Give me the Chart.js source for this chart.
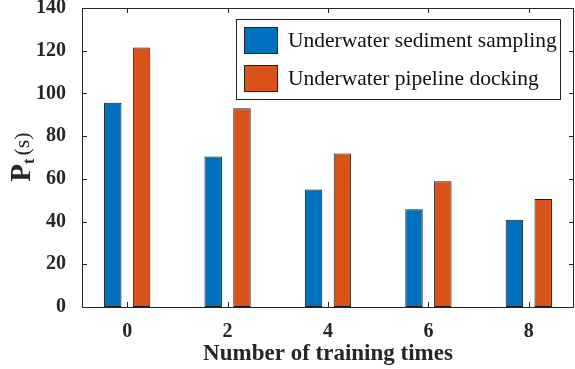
<!DOCTYPE html>
<html>
<head>
<meta charset="utf-8">
<script src="https://cdn.jsdelivr.net/npm/chart.js@4.4.1/dist/chart.umd.min.js"></script>
<style>
  html, body { margin: 0; padding: 0; background: #fff; }
  #wrap { width: 575px; height: 369px; }
</style>
</head>
<body>
<div id="wrap"><canvas id="chart" width="575" height="369"></canvas></div>
<script>
const trainingTimes = [0, 2, 4, 6, 8];
const sedimentSampling = [95.6, 70.5, 55.0, 45.8, 40.8];
const pipelineDocking = [121.5, 93.1, 71.9, 58.9, 50.6];
const xTicks = [0, 2, 4, 6, 8];
const yTicks = [0, 20, 40, 60, 80, 100, 120, 140];
const seriesNames = ["Underwater sediment sampling", "Underwater pipeline docking"];

const AXIS = "#262626";
const SERIF = "'Liberation Serif', 'Times New Roman', serif";

// MATLAB style box, inward ticks, legend and y label
const matlabAxes = {
    id: "matlabAxes",
    afterDraw(chart) {
        const ctx = chart.ctx;
        const a = chart.chartArea;
        const xs = chart.scales.x, ys = chart.scales.y;
        ctx.save();
        ctx.strokeStyle = AXIS;
        ctx.lineWidth = 1;
        ctx.strokeRect(Math.round(a.left) + 0.5, Math.round(a.top) + 0.5,
            Math.round(a.right - a.left) - 1, Math.round(a.bottom - a.top));
        const tl = 5;
        ctx.beginPath();
        xTicks.forEach(v => {
            const px = Math.round(xs.getPixelForValue(v)) + 0.5;
            ctx.moveTo(px, a.bottom); ctx.lineTo(px, a.bottom - tl);
            ctx.moveTo(px, a.top); ctx.lineTo(px, a.top + tl);
        });
        yTicks.forEach(v => {
            const py = Math.round(ys.getPixelForValue(v)) + 0.5;
            ctx.moveTo(a.left, py); ctx.lineTo(a.left + tl, py);
            ctx.moveTo(a.right, py); ctx.lineTo(a.right - tl, py);
        });
        ctx.stroke();

        // legend
        const lx = 236, ly = 19, lw = 324, lh = 80;
        ctx.fillStyle = "#fff";
        ctx.fillRect(lx, ly, lw, lh);
        ctx.strokeStyle = AXIS;
        ctx.strokeRect(lx + 0.5, ly + 0.5, lw, lh);
        ctx.font = "21.5px " + SERIF;
        ctx.textBaseline = "middle";
        chart.data.datasets.forEach((ds, i) => {
            const yy = 40 + i * 38;
            ctx.fillStyle = ds.backgroundColor;
            ctx.fillRect(244, yy - 13, 33, 26);
            ctx.strokeStyle = "#222";
            ctx.strokeRect(244.5, yy - 12.5, 33, 26);
            ctx.fillStyle = "#111";
            ctx.fillText(ds.label, 288, yy + 1);
        });

        // y axis label P_t(s)
        ctx.translate(30, 157);
        ctx.rotate(-Math.PI / 2);
        ctx.fillStyle = AXIS;
        ctx.textBaseline = "alphabetic";
        ctx.textAlign = "left";
        const parts = [
            { t: "P", f: "bold 29px " + SERIF, dy: 0, gap: 0 },
            { t: "t", f: "bold 16px " + SERIF, dy: 4, gap: 3 },
            { t: "(s)", f: "22px " + SERIF, dy: -1, gap: 0 }
        ];
        let total = 0;
        parts.forEach(p => { ctx.font = p.f; p.w = ctx.measureText(p.t).width; total += p.w + p.gap; });
        let cx = -total / 2;
        parts.forEach(p => {
            ctx.font = p.f;
            ctx.fillText(p.t, cx, p.dy);
            cx += p.w + p.gap;
        });
        ctx.restore();
    }
};

new Chart(document.getElementById("chart"), {
    type: "bar",
    data: {
        datasets: [
            {
                label: seriesNames[0],
                data: trainingTimes.map((t, i) => ({ x: t, y: sedimentSampling[i] })),
                backgroundColor: "#0072BD",
                borderColor: "#1a1a1a",
                borderWidth: 1,
                borderSkipped: false
            },
            {
                label: seriesNames[1],
                data: trainingTimes.map((t, i) => ({ x: t, y: pipelineDocking[i] })),
                backgroundColor: "#D95319",
                borderColor: "#1a1a1a",
                borderWidth: 1,
                borderSkipped: false
            }
        ]
    },
    options: {
        responsive: false,
        animation: false,
        layout: { padding: { top: 8, right: 1, left: 0, bottom: 0 } },
        categoryPercentage: 0.574,
        barPercentage: 0.606,
        plugins: { legend: { display: false }, tooltip: { enabled: false } },
        scales: {
            x: {
                type: "linear",
                min: -0.9,
                max: 8.9,
                offset: false,
                afterBuildTicks: s => { s.ticks = xTicks.map(v => ({ value: v })); },
                afterFit: s => { s.height = 62; s.paddingLeft = 0; s.paddingRight = 0; },
                grid: { display: false },
                border: { display: false },
                ticks: {
                    color: AXIS,
                    font: { family: SERIF, size: 20, weight: "bold" },
                    padding: 5
                },
                title: {
                    display: true,
                    text: "Number of training times",
                    color: AXIS,
                    font: { family: SERIF, size: 23, weight: "bold" },
                    padding: { top: 0, bottom: 1 }
                }
            },
            y: {
                min: 0,
                max: 140,
                afterBuildTicks: s => { s.ticks = yTicks.map(v => ({ value: v })); },
                afterFit: s => { s.width = 82; s.paddingTop = 0; s.paddingBottom = 0; },
                grid: { display: false },
                border: { display: false },
                ticks: {
                    color: AXIS,
                    font: { family: SERIF, size: 20, weight: "bold" },
                    padding: 8
                }
            }
        }
    },
    plugins: [matlabAxes]
});
</script>
</body>
</html>
